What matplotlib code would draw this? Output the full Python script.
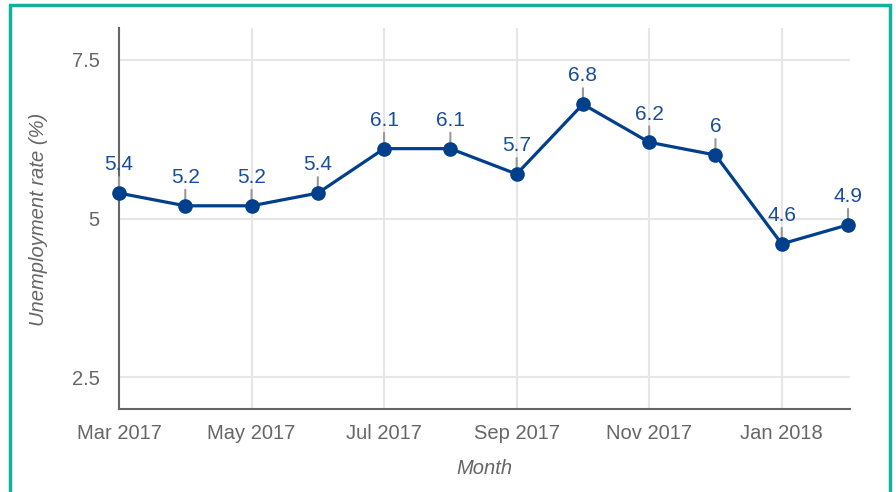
import matplotlib.pyplot as plt
from matplotlib.patches import Rectangle

# %% Data
months = ['Mar 2017', 'Apr 2017', 'May 2017', 'Jun 2017', 'Jul 2017', 'Aug 2017',
          'Sep 2017', 'Oct 2017', 'Nov 2017', 'Dec 2017', 'Jan 2018', 'Feb 2018']
rate = [5.4, 5.2, 5.2, 5.4, 6.1, 6.1, 5.7, 6.8, 6.2, 6.0, 4.6, 4.9]
rate_labels = ['5.4', '5.2', '5.2', '5.4', '6.1', '6.1', '5.7', '6.8', '6.2', '6', '4.6', '4.9']
y_ticks = [2.5, 5, 7.5]
y_tick_labels = ['2.5', '5', '7.5']

# %% Style
plt.rcParams['font.family'] = ['Liberation Sans', 'DejaVu Sans']
line_col = '#003f8c'
label_col = '#1a4d99'
grey_txt = '#666666'

fig = plt.figure(figsize=(8.96, 4.92), dpi=100)
ax = fig.add_axes([119 / 896, 1 - 409 / 492, (850 - 119) / 896, (409 - 28) / 492])

x = list(range(len(months)))

# grid
for yt in y_ticks:
    ax.axhline(yt, color='#e6e6e6', lw=1.5, zorder=0)
for xi in x[::2]:
    ax.axvline(xi, color='#e6e6e6', lw=1.5, zorder=0)

ax.plot(x, rate, color=line_col, lw=2.3, marker='o', markersize=9.5,
        markerfacecolor=line_col, markeredgecolor=line_col, zorder=5,
        clip_on=False)

for xi, v, lab in zip(x, rate, rate_labels):
    ax.annotate(lab, xy=(xi, v), xytext=(0, 13.5), textcoords='offset points',
                ha='center', va='bottom', fontsize=15, color=label_col,
                arrowprops=dict(arrowstyle='-', color='#999999', lw=1.5,
                                shrinkA=0, shrinkB=0),
                zorder=4, annotation_clip=False)

ax.set_xlim(0, 11.03)
ax.set_ylim(2, 8)
ax.set_xticks(x[::2])
ax.set_xticklabels(months[::2])
ax.set_yticks(y_ticks)
ax.set_yticklabels(y_tick_labels)
ax.tick_params(length=0, labelsize=14.5, colors=grey_txt, pad=14)
ax.tick_params(axis='x', pad=11)

for s in ['top', 'right']:
    ax.spines[s].set_visible(False)
for s in ['left', 'bottom']:
    ax.spines[s].set_color('#666666')
    ax.spines[s].set_linewidth(1.5)

fig.text(39 / 896, 1 - 219 / 492, 'Unemployment rate (%)', rotation=90,
         ha='center', va='center', fontsize=14.5, style='italic', color=grey_txt)
fig.text(484 / 896, 1 - 468 / 492, 'Month', ha='center', va='center',
         fontsize=14.5, style='italic', color=grey_txt)

# teal frame round the figure
fig.patches.append(Rectangle((9.5 / 896, -0.05), (889.5 - 9.5) / 896, 1.05 - 4.5 / 492,
                             transform=fig.transFigure, fill=False,
                             edgecolor='#12b09f', lw=2.5))

fig.savefig('out.png', dpi=100)
